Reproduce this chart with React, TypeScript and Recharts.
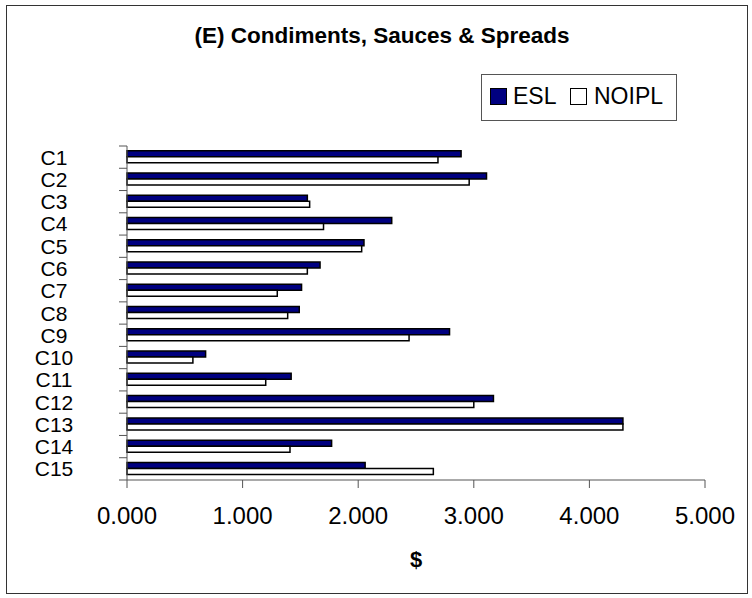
import React from 'react';
import { BarChart, Bar, XAxis, YAxis } from 'recharts';

const categories = ['C1', 'C2', 'C3', 'C4', 'C5', 'C6', 'C7', 'C8', 'C9', 'C10', 'C11', 'C12', 'C13', 'C14', 'C15'];
const eslValues = [2.89, 3.11, 1.56, 2.29, 2.05, 1.67, 1.51, 1.49, 2.79, 0.68, 1.42, 3.17, 4.29, 1.77, 2.06];
const noiplValues = [2.69, 2.96, 1.58, 1.7, 2.03, 1.56, 1.3, 1.39, 2.44, 0.57, 1.2, 3.0, 4.29, 1.41, 2.65];
const xTicks = [0, 1, 2, 3, 4, 5];

const data = categories.map((name, i) => ({ name, esl: eslValues[i], noipl: noiplValues[i] }));

const FONT = '"Liberation Sans", Arial, sans-serif';
const AXIS = '#555';
const MARGIN = { top: 146, right: 47, bottom: 26, left: 7 };
const X_AXIS_HEIGHT = 92;
const CHART_W = 752;
const CHART_H = 598;
const band = (CHART_H - MARGIN.top - MARGIN.bottom - X_AXIS_HEIGHT) / categories.length;

// category labels sit centred well left of the axis, tick marks go between categories
function CategoryTick(props: any) {
    const { x, y, payload, index } = props;
    const half = band / 2;
    return (
        <g>
            <line x1={x - 8} x2={x} y1={y - half} y2={y - half} stroke={AXIS} />
            {index === categories.length - 1 && (
                <line x1={x - 8} x2={x} y1={y + half} y2={y + half} stroke={AXIS} />
            )}
            <text x={x - 73} y={y} dy="0.36em" textAnchor="middle" fontSize={21} fill="#000" fontFamily={FONT}>
                {payload.value}
            </text>
        </g>
    );
}

export default function App() {
    return (
        <div style={{ position: 'absolute', left: 0, top: 0, width: CHART_W, height: CHART_H, background: '#fff', fontFamily: FONT }}>
            <div
                style={{
                    position: 'absolute', left: 6, top: 5, width: 742, height: 589,
                    border: '1.5px solid #333', boxSizing: 'border-box'
                }}
            />
            <div
                style={{
                    position: 'absolute', left: 0, width: 764, top: 23, textAlign: 'center',
                    fontWeight: 'bold', fontSize: 22.5, lineHeight: '26px', color: '#000'
                }}
            >
                (E) Condiments, Sauces &amp; Spreads
            </div>
            <div
                style={{
                    position: 'absolute', left: 481, top: 74, width: 196, height: 47,
                    border: '1px solid #555', boxSizing: 'border-box', background: '#fff'
                }}
            >
                <div style={{ position: 'absolute', left: 8, top: 13, width: 15, height: 15, background: '#000080', border: '1px solid #000' }} />
                <div style={{ position: 'absolute', left: 31, top: 8, fontSize: 23, lineHeight: '26px' }}>ESL</div>
                <div style={{ position: 'absolute', left: 88, top: 13, width: 15, height: 15, background: '#fff', border: '1px solid #000' }} />
                <div style={{ position: 'absolute', left: 112, top: 8, fontSize: 23, lineHeight: '26px' }}>NOIPL</div>
            </div>
            <div style={{ position: 'absolute', left: 0, top: 0 }}>
                <BarChart
                    width={CHART_W}
                    height={CHART_H}
                    data={data}
                    layout="vertical"
                    margin={MARGIN}
                    barCategoryGap="21%"
                    barGap={0}
                    style={{ fontFamily: FONT }}
                >
                    <XAxis
                        type="number"
                        domain={[0, 5]}
                        ticks={xTicks}
                        height={X_AXIS_HEIGHT}
                        stroke={AXIS}
                        tickSize={8}
                        tickMargin={19}
                        tick={{ fontSize: 24, fill: '#000', fontFamily: FONT }}
                        tickFormatter={(v: number) => v.toFixed(3)}
                        label={{ value: '$', position: 'insideBottom', offset: 5, fontSize: 22, fontWeight: 'bold', fill: '#000', fontFamily: FONT }}
                    />
                    <YAxis
                        type="category"
                        dataKey="name"
                        width={120}
                        stroke={AXIS}
                        tickLine={false}
                        tickSize={0}
                        tickMargin={0}
                        interval={0}
                        tick={<CategoryTick />}
                    />
                    <Bar dataKey="esl" name="ESL" fill="#000080" stroke="#000" strokeWidth={1.5} isAnimationActive={false} />
                    <Bar dataKey="noipl" name="NOIPL" fill="#fff" stroke="#000" strokeWidth={1.5} isAnimationActive={false} />
                </BarChart>
            </div>
        </div>
    );
}
